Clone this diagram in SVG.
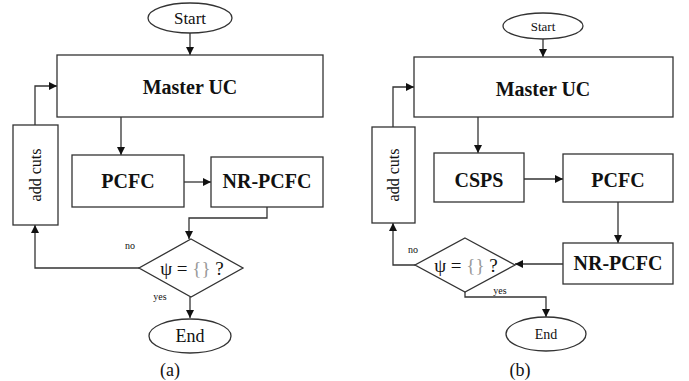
<svg xmlns="http://www.w3.org/2000/svg" width="689" height="381" viewBox="0 0 689 381" font-family="'Liberation Serif', 'Times New Roman', 'DejaVu Serif', serif">
<style>
.s{fill:#fff;stroke:#333;stroke-width:1.3}
.c{fill:none;stroke:#333;stroke-width:1.3}
text{fill:#111;text-anchor:middle}
.b{font-weight:bold;font-size:20px}
.g{fill:#999}
</style>
<defs>
<marker id="a" viewBox="0 0 10 10" refX="10" refY="5" markerWidth="8" markerHeight="8" markerUnits="userSpaceOnUse" orient="auto"><path d="M0,0 L10,5 L0,10 z" fill="#111"/></marker>
</defs>
<g id="connectors">
<path class="c" d="M190,33 V55" marker-end="url(#a)"/>
<path class="c" d="M35,125 V86 H57" marker-end="url(#a)"/>
<path class="c" d="M121,117 V155" marker-end="url(#a)"/>
<path class="c" d="M184,182 H211" marker-end="url(#a)"/>
<path class="c" d="M267,207 V218 H189 V239" marker-end="url(#a)"/>
<path class="c" d="M139,268 H35 V225" marker-end="url(#a)"/>
<path class="c" d="M190,297 V318" marker-end="url(#a)"/>
<path class="c" d="M543,39 V57" marker-end="url(#a)"/>
<path class="c" d="M393,127 V87 H414" marker-end="url(#a)"/>
<path class="c" d="M478,117 V153" marker-end="url(#a)"/>
<path class="c" d="M524,179 H563" marker-end="url(#a)"/>
<path class="c" d="M618,202 V243" marker-end="url(#a)"/>
<path class="c" d="M563,264 H515" marker-end="url(#a)"/>
<path class="c" d="M415,265 H393 V223" marker-end="url(#a)"/>
<path class="c" d="M465,292 V297 H546 V317" marker-end="url(#a)"/>
</g>
<g id="a-start"><ellipse class="s" cx="190" cy="18" rx="42" ry="15"/><text x="190" y="24" font-size="17">Start</text></g>
<g id="a-master"><rect class="s" x="57" y="55" width="266" height="62"/><text class="b" x="190" y="94">Master UC</text></g>
<g id="a-addcuts"><rect class="s" x="13" y="125" width="45" height="100"/><text x="0" y="0" font-size="16" transform="translate(41,175) rotate(-90)">add cuts</text></g>
<g id="a-pcfc"><rect class="s" x="72" y="155" width="112" height="52"/><text class="b" x="128" y="188">PCFC</text></g>
<g id="a-nrpcfc"><rect class="s" x="211" y="157" width="112" height="50"/><text class="b" x="267" y="188">NR-PCFC</text></g>
<g id="a-dec"><path class="s" d="M191,239 L243,268 L191,297 L139,268 z"/><text x="192" y="275" font-size="19">ψ = <tspan class="g">{}</tspan> ?</text></g>
<g id="a-end"><ellipse class="s" cx="190" cy="336" rx="41" ry="17"/><text x="190" y="342" font-size="18">End</text></g>
<text x="130" y="249" font-size="10">no</text>
<text x="160" y="300" font-size="10">yes</text>
<text x="170" y="376" font-size="18">(a)</text>
<g id="b-start"><ellipse class="s" cx="543" cy="26" rx="40" ry="13"/><text x="543" y="31" font-size="13">Start</text></g>
<g id="b-master"><rect class="s" x="414" y="57" width="259" height="60"/><text class="b" x="543" y="96">Master UC</text></g>
<g id="b-addcuts"><rect class="s" x="372" y="127" width="43" height="96"/><text x="0" y="0" font-size="16" transform="translate(399,175) rotate(-90)">add cuts</text></g>
<g id="b-csps"><rect class="s" x="434" y="153" width="90" height="49"/><text class="b" x="479" y="187">CSPS</text></g>
<g id="b-pcfc"><rect class="s" x="563" y="154" width="110" height="48"/><text class="b" x="618" y="187">PCFC</text></g>
<g id="b-nrpcfc"><rect class="s" x="563" y="243" width="110" height="41"/><text class="b" x="618" y="270">NR-PCFC</text></g>
<g id="b-dec"><path class="s" d="M465,238 L515,265 L465,292 L415,265 z"/><text x="466" y="272" font-size="19">ψ = <tspan class="g">{}</tspan> ?</text></g>
<g id="b-end"><ellipse class="s" cx="546" cy="334" rx="40" ry="17"/><text x="546" y="339" font-size="14">End</text></g>
<text x="413" y="253" font-size="10">no</text>
<text x="500" y="294" font-size="10">yes</text>
<text x="520" y="376" font-size="18">(b)</text>
</svg>
